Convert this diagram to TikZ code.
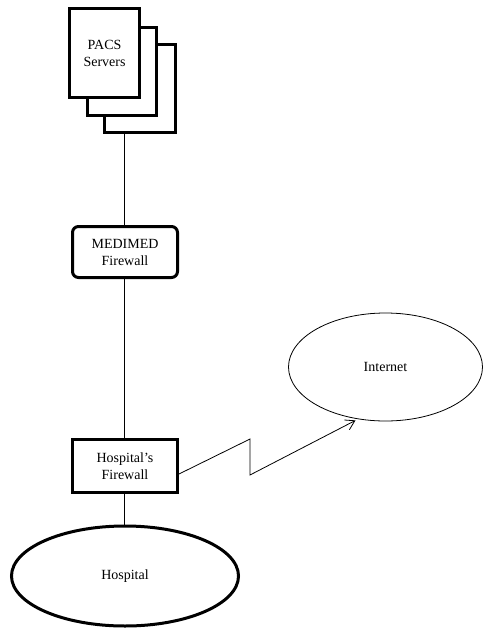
\documentclass[tikz,border=0pt]{standalone}
\usepackage{fontspec}
\setmainfont{Liberation Serif}
\usetikzlibrary{arrows.meta,shapes.geometric}
\begin{document}
\begin{tikzpicture}[x=1pt,y=-1pt,
  thickbox/.style={draw,line width=3pt,fill=white},
  lbl/.style={font=\fontsize{14}{17}\selectfont,align=center},
  link/.style={draw,line width=0.8pt}]
\useasboundingbox (0,0) rectangle (483,630);
% stacked PACS servers
\node[thickbox,minimum width=71pt,minimum height=88pt] (s3) at (140,88.5) {};
\node[thickbox,minimum width=69pt,minimum height=88pt] (s2) at (122,71.5) {};
\node[thickbox,minimum width=70pt,minimum height=89pt,lbl] (s1) at (104.5,53) {PACS\\Servers};
% firewalls
\node[thickbox,rounded corners=6pt,minimum width=105pt,minimum height=51pt,lbl] (mf) at (125,252) {MEDIMED\\Firewall};
\node[thickbox,minimum width=105pt,minimum height=53pt,lbl] (hf) at (125,466) {Hospital’s\\Firewall};
% ellipses
\node[draw,line width=0.8pt,ellipse,minimum width=194pt,minimum height=108pt,lbl] (net) at (385.5,367) {Internet};
\node[draw,line width=3pt,ellipse,minimum width=227pt,minimum height=100pt,lbl] (hosp) at (125,576) {Hospital};
% connectors
\coordinate (st) at (124,0);
\draw[link] (s3.south -| st) -- (mf.north -| st);
\draw[link] (mf.south -| st) -- (hf.north -| st);
\draw[link] (hf.south -| st) -- (hosp.north -| st);
\coordinate (z1) at (250,439);
\coordinate (z2) at (250,475);
\coordinate (tip) at ([xshift=-30pt,yshift=1pt]net.south);
\draw[link,-{Straight Barb[length=9pt,width=11pt]}] (hf.east |- 0,474) -- (z1) -- (z2) -- (tip);
\end{tikzpicture}
\end{document}
